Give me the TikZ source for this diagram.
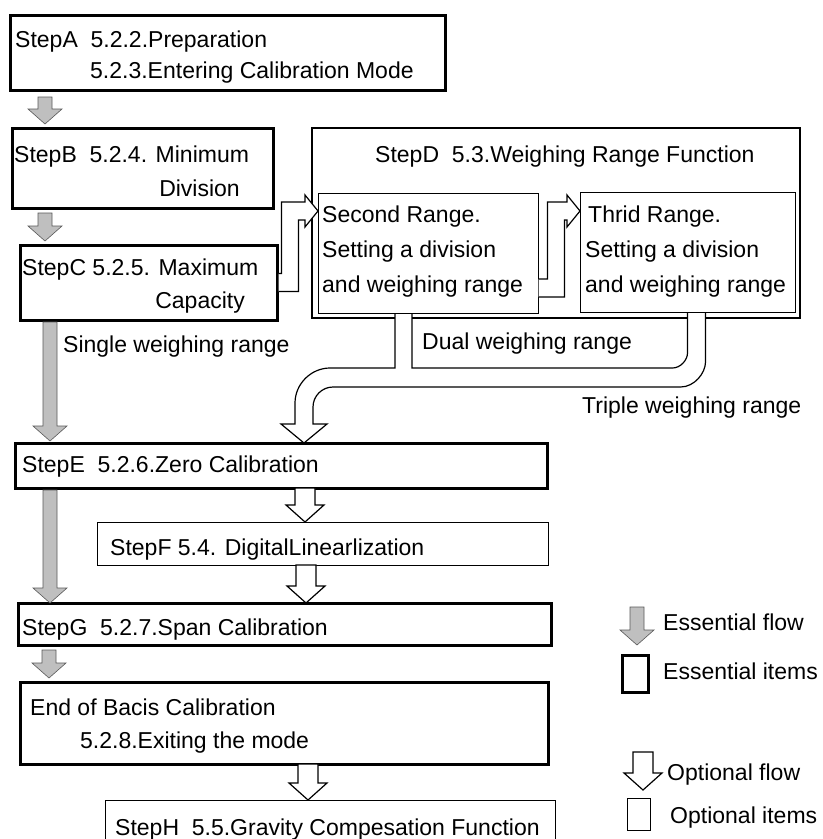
\documentclass[tikz,border=0pt]{standalone}
\usepackage{fontspec}
\setmainfont{Liberation Sans}
\usetikzlibrary{calc}

\newcommand{\stepfont}{\fontsize{23bp}{28bp}\selectfont}

% essential flow: grey block arrow, tail #1, tip #2
\newcommand{\essflow}[2]{%
  \filldraw[essarrow] let \p1=#1, \p2=#2 in
    (\x1-7bp,\y1) -- (\x1+7bp,\y1) -- (\x1+7bp,\y2+15bp) -- (\x1+17bp,\y2+15bp)
    -- (\x1,\y2) -- (\x1-17bp,\y2+15bp) -- (\x1-7bp,\y2+15bp) -- cycle;}

% optional flow: hollow block arrow, tail #1, tip #2
\newcommand{\optflow}[2]{%
  \filldraw[optarrow] let \p1=#1, \p2=#2 in
    (\x1-10bp,\y1) -- (\x1+10bp,\y1) -- (\x1+10bp,\y2+17bp) -- (\x1+19bp,\y2+17bp)
    -- (\x1,\y2) -- (\x1-19bp,\y2+17bp) -- (\x1-10bp,\y2+17bp) -- cycle;}

% hollow elbow arrow: out of a box side #1, up, then right to tip #2
\newcommand{\elbowflow}[3]{%
  \filldraw[optarrow] let \p1=#1, \p2=#2 in
    (\x1,\y1+9bp) -- (\x1+#3,\y1+9bp) -- (\x1+#3,\y2+9bp) -- (\x2-13bp,\y2+9bp)
    -- (\x2-13bp,\y2+16bp) -- (\x2,\y2) -- (\x2-13bp,\y2-16bp) -- (\x2-13bp,\y2-9bp)
    -- (\x1+#3+17bp,\y2-9bp) -- (\x1+#3+17bp,\y1-9bp) -- (\x1,\y1-9bp);}

\tikzset{
  essbox/.style={draw, line width=3bp, anchor=north west, inner sep=0pt, outer sep=0pt},
  optbox/.style={draw, line width=1bp, anchor=north west, inner sep=0pt, outer sep=0pt},
  essarrow/.style={fill=gray!50, draw=gray!70!black, line width=0.6bp},
  optarrow/.style={fill=white, draw=black, line width=1.2bp},
  optline/.style={draw=black, line width=1.2bp},
  txt/.style={anchor=base west, inner sep=0pt, font=\stepfont}
}

\begin{document}
\begin{tikzpicture}[x=1bp, y=-1bp]
    \useasboundingbox (0,0) rectangle (823,839);

    % Boxes of the steps
    \node[essbox, minimum width=435bp, minimum height=75bp] (stepA) at (10,15) {};
    \node[essbox, minimum width=261bp, minimum height=80bp] (stepB) at (12,128) {};
    \node[essbox, minimum width=257bp, minimum height=75bp] (stepC) at (20,245) {};
    \node[optbox, line width=1.6bp, minimum width=488bp, minimum height=190bp] (stepD) at (312,128) {};
    \node[optbox, minimum width=220bp, minimum height=120bp] (second) at (318,193) {};
    \node[optbox, minimum width=215bp, minimum height=120bp] (third) at (580,192) {};
    \node[essbox, minimum width=532bp, minimum height=45bp] (stepE) at (15,443) {};
    \node[optbox, minimum width=451bp, minimum height=43bp] (stepF) at (97,522) {};
    \node[essbox, minimum width=533bp, minimum height=42bp] (stepG) at (18,603) {};
    \node[essbox, minimum width=528bp, minimum height=82bp] (stepEnd) at (20,682) {};
    \node[optbox, minimum width=450bp, minimum height=60bp] (stepH) at (105,800) {};

    % Texts in the boxes
    \node[txt] (txtA1) at (15,47) {StepA\ \ 5.2.2.Preparation};
    \node[txt] (txtA2) at (90,78) {5.2.3.Entering Calibration Mode};
    \node[txt] (txtB1) at (14,162) {StepB\ \ 5.2.4. Minimum};
    \node[txt, anchor=base east] (txtB2) at (240,196) {Division};
    \node[txt] (txtC1) at (22,275) {StepC 5.2.5. Maximum};
    \node[txt, anchor=base east] (txtC2) at (245,308) {Capacity};
    \node[txt] (txtD) at (375,162) {StepD\ \ 5.3.Weighing Range Function};
    \node[txt] (txtS1) at (322,222) {Second Range.};
    \node[txt] (txtS2) at (322,257) {Setting a division};
    \node[txt] (txtS3) at (322,292) {and weighing range};
    \node[txt] (txtT1) at (588,222) {Thrid Range.};
    \node[txt] (txtT2) at (585,257) {Setting a division};
    \node[txt] (txtT3) at (585,292) {and weighing range};
    \node[txt] (txtE) at (22,472) {StepE\ \ 5.2.6.Zero Calibration};
    \node[txt] (txtF) at (110,555) {StepF 5.4. DigitalLinearlization};
    \node[txt] (txtG) at (22,635) {StepG\ \ 5.2.7.Span Calibration};
    \node[txt] (txtEnd1) at (30,715) {End of Bacis Calibration};
    \node[txt] (txtEnd2) at (80,748) {5.2.8.Exiting the mode};
    \node[txt] (txtH) at (115,835) {StepH\ \ 5.5.Gravity Compesation Function};

    % Labels of the ranges
    \node[txt] (single) at (63,352) {Single weighing range};
    \node[txt] (dual) at (422,349) {Dual weighing range};
    \node[txt] (triple) at (582,413) {Triple weighing range};

    % Essential flow
    \essflow{([xshift=35bp,yshift=-7bp]stepA.south west)}{([xshift=33bp,yshift=4bp]stepB.north west)}
    \essflow{([xshift=33bp,yshift=-5bp]stepB.south west)}{([xshift=25bp,yshift=4bp]stepC.north west)}
    \essflow{([xshift=30bp,yshift=-2bp]stepC.south west)}{([xshift=35bp,yshift=2bp]stepE.north west)}
    \essflow{([xshift=35bp,yshift=-2bp]stepE.south west)}{([xshift=32bp]stepG.north west)}
    \essflow{([xshift=31bp,yshift=-5bp]stepG.south west)}{([xshift=29bp,yshift=4bp]stepEnd.north west)}

    % Optional flow
    \optflow{([xshift=290bp]stepE.south west)}{([xshift=208bp]stepF.north west)}
    \optflow{([xshift=209bp]stepF.south west)}{([xshift=288bp]stepG.north west)}
    \optflow{([xshift=288bp]stepEnd.south west)}{([xshift=203bp]stepH.north west)}
    \elbowflow{([xshift=1.5bp]stepC.east)}{([yshift=-18bp]second.north west)}{3bp}
    \elbowflow{([xshift=0.5bp,yshift=-35bp]second.east)}{([yshift=-19bp]third.north west)}{9bp}

    % Dual and triple ranges join into one arrow to StepE
    \coordinate (dualL) at ([xshift=-33bp,yshift=-1bp]second.south);
    \coordinate (dualR) at ([xshift=-16bp,yshift=-1bp]second.south);
    \coordinate (tripL) at ([yshift=-1bp]third.south);
    \coordinate (tripR) at ([xshift=18bp,yshift=-1bp]third.south);
    \coordinate (mergetip) at ([xshift=289bp]stepE.north west);
    \fill[white] (dualL) rectangle ($(dualR)+(0,8)$);
    \fill[white] (tripL) rectangle ($(tripR)+(0,8)$);
    \draw[optline] (dualL) -- ($(dualL)+(0,54)$) -- ($(mergetip)+(26,-75)$)
        .. controls ($(mergetip)+(7,-75)$) and ($(mergetip)+(-9,-59)$) .. ($(mergetip)+(-9,-40)$)
        -- ($(mergetip)+(-9,-19)$) -- ($(mergetip)+(-23,-19)$) -- (mergetip)
        -- ($(mergetip)+(23,-19)$) -- ($(mergetip)+(9,-19)$) -- ($(mergetip)+(9,-36)$)
        .. controls ($(mergetip)+(9,-47)$) and ($(mergetip)+(18,-56)$) .. ($(mergetip)+(29,-56)$)
        -- ($(tripR)+(-25,74)$)
        .. controls ($(tripR)+(-11,74)$) and ($(tripR)+(0,60)$) .. ($(tripR)+(0,49)$) -- (tripR);
    \draw[optline] (dualR) -- ($(dualR)+(0,54)$) -- ($(tripL)+(-15,55)$)
        .. controls ($(tripL)+(-7,55)$) and ($(tripL)+(0,47)$) .. ($(tripL)+(0,40)$) -- (tripL);

    % Legend
    \coordinate (legesstop) at (637,607);
    \coordinate (legesstip) at (637,645);
    \coordinate (legopttop) at (643,752);
    \coordinate (legopttip) at (643,790);
    \essflow{(legesstop)}{(legesstip)}
    \optflow{(legopttop)}{(legopttip)}
    \node[essbox, minimum width=26bp, minimum height=37bp] (legess) at (622,655) {};
    \node[optbox, minimum width=23bp, minimum height=32bp] (legopt) at (627,798) {};
    \node[txt] (txtessflow) at (663,630) {Essential flow};
    \node[txt] (txtessitem) at (663,679) {Essential items};
    \node[txt] (txtoptflow) at (667,780) {Optional flow};
    \node[txt] (txtoptitem) at (670,823) {Optional items};
\end{tikzpicture}
\end{document}
